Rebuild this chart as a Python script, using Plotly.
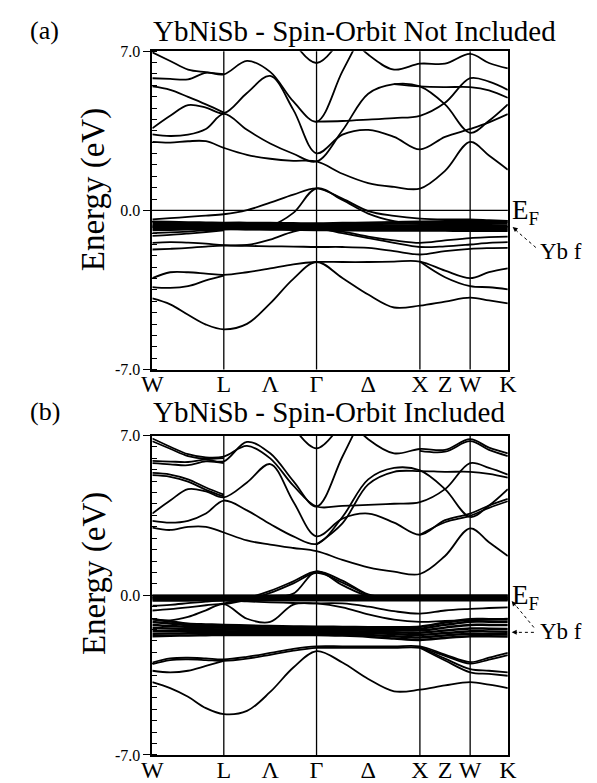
import plotly.graph_objects as go

N = None
# k-path sample positions (path length units) and symmetry labels
K_PATH = [0, 18.5, 37, 55.5, 74, 98, 122, 146, 170, 196.75, 223.5, 250.25, 277, 303, 329, 348.5, 368]
SYM_POS = [0, 74, 122, 170, 223.5, 277, 303, 329, 368]
SYM_LABELS = ["W", "L", "Λ", "Γ", "Δ", "X", "Z", "W", "K"]
VLINES = [74, 170, 277, 329]
Y_TICKS = [-7, 0, 7]
Y_TICKTEXT = ["-7.0", "0.0", "7.0"]

# ---------------- (a) spin-orbit not included ----------------
A_C1 = [3.01, 2.98, 3.04, 3.04, 2.75, 2.44, 2.27, 2.18, 2.15, 1.61, 1.20, 1.03, 0.96, 1.74, 3.01, 2.41, 1.79]
A_C2 = [3.61, 4.16, 4.63, 4.52, 4.27, 5.16, 5.91, 4.42, 2.51, 3.33, 3.54, 3.23, 2.68, 3.23, 3.58, 3.87, 4.23]
A_C3 = [3.34, 3.27, 3.33, 3.58, 4.24, 3.54, 2.94, 2.49, 2.15, 3.51, 5.13, 5.55, 5.45, 4.66, 3.41, 3.94, 4.66]
A_C4 = [5.45, 5.30, 4.99, 4.66, 4.30, N, N, N, N, N, N, N, N, N, N, N, N]
A_C5 = [5.81, 5.78, 5.76, 6.05, 5.98, 6.57, 6.09, 4.79, 3.90, 6.11, 8.3, N, N, N, N, N, N]
A_C6 = [6.95, 6.57, 6.19, 6.08, 5.99, N, N, N, N, N, N, N, N, N, N, N, N]
A_C7 = [N, N, N, N, N, N, N, 7.42, 6.48, 7.64, N, N, N, N, N, N, N]
A_C8 = [N, N, N, N, N, N, N, N, 3.90, 3.93, 3.99, 4.06, 4.16, 4.73, 5.81, 5.66, 5.30]
A_C9 = [N, N, N, N, N, N, N, N, N, 8.0, 6.85, 6.19, 6.45, 6.45, 6.88, 6.48, 6.24]
A_C10 = [N, N, N, N, N, N, N, N, N, N, N, 5.55, 5.45, 5.42, 5.42, 5.28, 4.95]
A_V1 = [-0.40, -0.34, -0.29, -0.23, -0.17, 0.01, 0.34, 0.69, 0.97, 0.52, -0.03, -0.24, -0.36, -0.40, -0.40, -0.43, -0.46]
A_V2 = [-0.72, -0.72, -0.72, -0.72, -0.74, -0.76, -0.68, -0.11, 0.97, 0.46, -0.14, -0.47, -0.60, -0.65, -0.69, -0.70, -0.72]
A_V3 = [-1.00, -0.97, -0.93, -0.88, -0.84, -0.84, -0.83, -0.83, -0.83, -0.93, -1.15, -1.32, -1.43, -1.32, -1.22, -1.18, -1.15]
A_V4 = [-1.12, -1.08, -1.02, -0.95, -0.88, N, N, N, N, N, N, N, N, N, N, N, N]
A_V5 = [-1.72, -1.69, -1.65, -1.59, -1.55, -1.56, -1.58, -1.59, -1.61, -1.61, -1.65, -1.79, -1.94, -1.79, -1.69, -1.66, -1.65]
A_V6 = [-1.43, -1.40, -1.42, -1.46, -1.53, -1.52, -1.29, -0.93, -0.79, -1.00, -1.22, -1.43, -1.61, -1.58, -1.50, -1.43, -1.40]
A_V7 = [-2.98, -2.72, -2.72, -2.78, -2.84, -2.72, -2.55, -2.37, -2.27, -2.27, -2.27, -2.25, -2.25, -2.65, -2.98, -2.72, -2.55]
A_V8 = [-3.37, -3.41, -3.33, -3.08, -2.87, N, N, N, N, N, N, N, -2.25, -2.94, -3.33, -3.38, -3.47]
A_V9 = [-3.87, -4.13, -4.59, -5.02, -5.23, -4.99, -4.09, -3.01, -2.27, -2.97, -3.70, -4.27, -4.19, -4.01, -3.84, -3.96, -4.09]
# Yb f bundle (a)
FA_1 = [-0.50, -0.51, -0.53, -0.54, -0.55, -0.55, -0.56, -0.57, -0.58, -0.56, -0.54, -0.52, -0.50, -0.48, -0.47, -0.48, -0.49]
FA_2 = [-0.57, -0.58, -0.60, -0.61, -0.62, -0.62, -0.63, -0.63, -0.64, -0.62, -0.60, -0.58, -0.57, -0.56, -0.55, -0.56, -0.57]
FA_3 = [-0.64, -0.65, -0.66, -0.67, -0.67, -0.68, -0.69, -0.69, -0.70, -0.69, -0.68, -0.67, -0.66, -0.65, -0.64, -0.65, -0.66]
FA_4 = [-0.71, -0.72, -0.72, -0.72, -0.72, -0.73, -0.74, -0.75, -0.76, -0.75, -0.74, -0.74, -0.74, -0.74, -0.73, -0.73, -0.74]
FA_5 = [-0.78, -0.78, -0.77, -0.77, -0.77, -0.78, -0.79, -0.80, -0.81, -0.81, -0.81, -0.81, -0.81, -0.82, -0.82, -0.82, -0.82]
FA_6 = [-0.86, -0.85, -0.83, -0.82, -0.81, -0.82, -0.84, -0.85, -0.86, -0.87, -0.88, -0.88, -0.88, -0.89, -0.90, -0.90, -0.90]

# ---------------- (b) spin-orbit included ----------------
B_C1 = [2.96, 2.86, 3.00, 3.00, 2.75, 2.40, 2.22, 2.07, 1.93, 1.55, 1.22, 1.03, 0.93, 1.72, 2.93, 2.32, 1.72]
B_C2 = [3.58, 4.15, 4.65, 4.55, 4.29, 4.94, 5.75, 4.10, 2.58, 3.36, 3.58, 3.18, 2.65, 3.29, 3.58, 3.93, 4.22]
B_C2b = [N, N, N, N, N, N, N, N, N, N, N, N, 2.65, 3.20, 3.48, 3.83, 4.12]
B_C3 = [3.26, 3.18, 3.26, 3.58, 4.15, 3.72, 3.12, 2.58, 2.25, 3.43, 5.08, 5.58, 5.47, 4.65, 3.43, 3.93, 4.65]
B_C4 = [5.36, 5.29, 5.08, 4.72, 4.41, N, N, N, N, N, N, N, N, N, N, N, N]
B_C4b = [5.26, 5.19, 4.98, 4.62, 4.33, N, N, N, N, N, N, N, N, N, N, N, N]
B_C5 = [5.89, 5.86, 5.84, 5.94, 5.87, 6.72, 6.22, 5.00, 3.89, 6.07, 8.4, N, N, N, N, N, N]
B_C5b = [5.79, 5.74, 5.70, 5.87, 5.79, N, N, N, N, N, N, N, N, N, N, N, N]
B_C6 = [6.87, 6.51, 6.18, 6.04, 6.08, 6.55, 6.00, 4.80, 3.89, 3.92, 3.96, 4.01, 4.08, 4.65, 5.79, 5.58, 5.29]
B_C6b = [6.75, 6.42, 6.10, 5.98, 6.01, N, N, N, N, N, N, N, N, N, N, N, N]
B_C7 = [N, N, N, N, N, N, N, 7.38, 6.44, 7.60, N, N, N, N, N, N, N]
B_C9 = [N, N, N, N, N, N, N, N, N, 8.0, 6.84, 6.22, 6.41, 6.37, 6.84, 6.47, 6.22]
B_C9b = [N, N, N, N, N, N, N, N, N, N, N, N, 6.33, 6.29, 6.75, 6.37, 6.10]
B_C10 = [N, N, N, N, N, N, N, N, 2.22, 3.15, 4.86, 5.41, 5.44, 5.41, 5.41, 5.32, 5.15]
B_V1 = [-0.67, -0.61, -0.53, -0.44, -0.36, -0.13, 0.19, 0.61, 1.04, 0.64, 0.04, -0.10, -0.16, -0.17, -0.17, -0.18, -0.19]
B_V1b = [N, N, N, N, -0.40, -0.20, 0.10, 0.52, 0.98, 0.55, -0.02, N, N, N, N, N, N]
B_V2 = [-0.10, -0.10, -0.10, -0.10, -0.10, -0.10, -0.10, 0.07, 1.04, 0.44, -0.03, -0.10, -0.12, -0.12, -0.12, -0.12, -0.12]
B_V3 = [-1.05, -1.10, -0.95, -0.66, -0.39, -1.03, -1.17, -0.41, -0.36, -0.36, -0.50, -0.70, -0.81, -0.67, -0.60, -0.56, -0.53]
B_V4 = [-0.46, -0.42, -0.35, -0.28, -0.24, -0.27, -0.31, -0.34, -0.36, -0.53, -0.84, -1.07, -1.17, -1.13, -1.10, -1.07, -1.03]
B_V7 = [-2.95, -2.77, -2.74, -2.77, -2.81, -2.70, -2.53, -2.35, -2.24, -2.24, -2.24, -2.24, -2.24, -2.60, -2.93, -2.74, -2.53]
B_V7b = [-3.02, -2.84, -2.81, -2.84, -2.88, -2.78, -2.61, -2.43, -2.31, -2.31, -2.31, -2.31, -2.31, -2.66, -3.00, -2.82, -2.62]
B_V8 = [-3.31, -3.38, -3.31, -3.10, -2.88, N, N, N, N, N, N, N, -2.27, -2.78, -3.24, -3.31, -3.38]
B_V8b = [N, N, N, N, N, N, N, N, N, N, N, N, -2.30, -2.86, -3.38, -3.45, -3.53]
B_V9 = [-3.81, -4.07, -4.45, -4.95, -5.21, -5.07, -4.24, -3.17, -2.45, -2.95, -3.67, -4.21, -4.14, -3.95, -3.81, -3.92, -4.07]
# Yb f bundles (b): near E_F and near -1.5 eV
FB_1 = [-0.03, -0.03, -0.03, -0.03, -0.03, -0.03, -0.03, -0.02, -0.02, -0.02, -0.02, -0.02, -0.02, -0.02, -0.02, -0.02, -0.02]
FB_2 = [-0.08, -0.08, -0.08, -0.08, -0.08, -0.08, -0.08, -0.07, -0.07, -0.07, -0.07, -0.07, -0.07, -0.07, -0.07, -0.07, -0.07]
FB_3 = [-0.13, -0.13, -0.13, -0.13, -0.13, -0.13, -0.13, -0.12, -0.12, -0.12, -0.12, -0.12, -0.12, -0.12, -0.12, -0.12, -0.12]
FB_4 = [-0.18, -0.18, -0.18, -0.18, -0.18, -0.18, -0.18, -0.17, -0.17, -0.17, -0.17, -0.17, -0.17, -0.17, -0.17, -0.17, -0.17]
FB_5 = [-0.23, -0.23, -0.23, -0.22, -0.22, -0.22, -0.22, -0.22, -0.22, -0.22, -0.22, -0.22, -0.22, -0.22, -0.22, -0.22, -0.22]
GB_1 = [-1.05, -1.15, -1.25, -1.28, -1.30, -1.33, -1.35, -1.37, -1.38, -1.39, -1.40, -1.40, -1.38, -1.20, -1.05, -1.05, -1.05]
GB_2 = [-1.17, -1.24, -1.31, -1.34, -1.36, -1.39, -1.41, -1.42, -1.43, -1.44, -1.45, -1.46, -1.46, -1.30, -1.16, -1.16, -1.16]
GB_3 = [-1.30, -1.35, -1.39, -1.41, -1.43, -1.45, -1.47, -1.48, -1.49, -1.50, -1.51, -1.53, -1.54, -1.42, -1.30, -1.30, -1.30]
GB_4 = [-1.44, -1.46, -1.48, -1.49, -1.50, -1.52, -1.54, -1.55, -1.56, -1.57, -1.59, -1.62, -1.64, -1.55, -1.46, -1.47, -1.48]
GB_5 = [-1.57, -1.57, -1.57, -1.58, -1.58, -1.59, -1.60, -1.61, -1.62, -1.63, -1.66, -1.70, -1.74, -1.66, -1.58, -1.59, -1.60]
GB_6 = [-1.69, -1.68, -1.67, -1.66, -1.66, -1.66, -1.67, -1.68, -1.68, -1.70, -1.74, -1.80, -1.85, -1.76, -1.69, -1.70, -1.71]
GB_7 = [-1.80, -1.78, -1.76, -1.75, -1.74, -1.74, -1.74, -1.74, -1.74, -1.77, -1.82, -1.90, -1.96, -1.87, -1.80, -1.80, -1.81]

BANDS_A = [A_C1, A_C2, A_C3, A_C4, A_C5, A_C6, A_C7, A_C8, A_C9, A_C10,
           A_V1, A_V2, A_V3, A_V4, A_V5, A_V6, A_V7, A_V8, A_V9]
BUNDLE_A = [FA_1, FA_2, FA_3, FA_4, FA_5, FA_6]
BANDS_B = [B_C1, B_C2, B_C2b, B_C3, B_C4, B_C4b, B_C5, B_C5b, B_C6, B_C6b, B_C7, B_C9, B_C9b, B_C10,
           B_V1, B_V1b, B_V2, B_V3, B_V4, B_V7, B_V7b, B_V8, B_V8b, B_V9]
BUNDLE_B = [FB_1, FB_2, FB_3, FB_4, FB_5, GB_1, GB_2, GB_3, GB_4, GB_5, GB_6, GB_7]

# page body has an 8px default margin: figure is sized to fill the rest of the window
OFF = 8
FW, FH = 597 - OFF, 783 - OFF
FONT = "Liberation Serif"


def px(x):
    return (x - OFF) / FW


def py(y):
    return 1 - (y - OFF) / FH


fig = go.Figure()

panels = [
    dict(sfx="", top=44, bot=370, bands=BANDS_A, bundle=BUNDLE_A),
    dict(sfx="2", top=437.5, bot=764.5, bands=BANDS_B, bundle=BUNDLE_B),
]

for p in panels:
    xa, ya = "x" + p["sfx"], "y" + p["sfx"]
    for b in p["bundle"]:
        fig.add_trace(go.Scatter(x=K_PATH, y=b, mode="lines", xaxis=xa, yaxis=ya,
                                 line=dict(color="black", width=2.5, shape="spline"),
                                 showlegend=False, hoverinfo="skip"))
    for b in p["bands"]:
        fig.add_trace(go.Scatter(x=K_PATH, y=b, mode="lines", xaxis=xa, yaxis=ya,
                                 line=dict(color="black", width=1.8, shape="spline"),
                                 connectgaps=False, showlegend=False, hoverinfo="skip"))
    for v in VLINES:
        fig.add_shape(type="line", xref=xa, yref=ya + " domain", x0=v, x1=v, y0=0, y1=1,
                      line=dict(color="black", width=1.3))
    fig.add_shape(type="line", xref=xa + " domain", yref=ya, x0=0, x1=1, y0=0, y1=0,
                  line=dict(color="black", width=1.2))

    ax_common = dict(showline=True, mirror=True, linecolor="black", linewidth=1.7,
                     showgrid=False, zeroline=False)
    fig.layout["xaxis" + p["sfx"]] = dict(
        domain=[px(146), px(514)], range=[0, 368], anchor=ya,
        tickmode="array", tickvals=SYM_POS, ticktext=SYM_LABELS, ticks="",
        ticklabelstandoff=-8,
        tickfont=dict(family=FONT, size=24, color="black"), **ax_common)
    fig.layout["yaxis" + p["sfx"]] = dict(
        domain=[py(p["bot"]), py(p["top"])], range=[-7, 7], anchor=xa,
        tickmode="array", tickvals=Y_TICKS, ticktext=Y_TICKTEXT,
        ticks="outside", ticklen=7, tickwidth=1.3, tickcolor="black",
        minor=dict(tickmode="linear", tick0=0, dtick=0.5, ticks="inside", ticklen=5,
                   tickwidth=1, tickcolor="black", showgrid=False),
        tickfont=dict(family=FONT, size=16, color="black"), **ax_common)

ann = []
# panel letters and titles
ann.append(dict(text="(a)", x=px(17), y=py(23), xanchor="left", yanchor="middle", font=dict(size=26)))
ann.append(dict(text="YbNiSb - Spin-Orbit Not Included", x=px(145), y=py(23), xanchor="left",
                yanchor="middle", font=dict(size=29)))
ann.append(dict(text="(b)", x=px(17), y=py(413), xanchor="left", yanchor="middle", font=dict(size=26)))
ann.append(dict(text="YbNiSb - Spin-Orbit Included", x=px(145), y=py(413), xanchor="left",
                yanchor="middle", font=dict(size=29)))
# y titles
ann.append(dict(text="Energy (eV)", x=px(86), y=py(186), textangle=-90, xanchor="center",
                yanchor="middle", font=dict(size=33)))
ann.append(dict(text="Energy (eV)", x=px(86), y=py(579), textangle=-90, xanchor="center",
                yanchor="middle", font=dict(size=33)))
# E_F labels
ann.append(dict(text="E<sub>F</sub>", x=px(516), y=py(209), xanchor="left", yanchor="middle",
                font=dict(size=27)))
ann.append(dict(text="E<sub>F</sub>", x=px(516), y=py(603), xanchor="left", yanchor="middle",
                font=dict(size=27)))
# Yb f labels
ann.append(dict(text="Yb f", x=px(545), y=py(249), xanchor="left", yanchor="middle", font=dict(size=23)))
ann.append(dict(text="Yb f", x=px(545), y=py(638), xanchor="left", yanchor="middle", font=dict(size=23)))
# arrow heads
for (hx, hy, dx, dy) in [(519, 224, 6, 5), (518, 607, 5, 6), (518, 639, 7, 0)]:
    ann.append(dict(text="", x=px(hx), y=py(hy), showarrow=True, arrowhead=2, arrowsize=1,
                    arrowwidth=1, arrowcolor="black", ax=dx, ay=dy))
for a in ann:
    a.setdefault("showarrow", False)
    a["xref"] = "paper"
    a["yref"] = "paper"
    f = a.get("font", {})
    f.setdefault("family", FONT)
    f.setdefault("color", "black")
    a["font"] = f
fig.update_layout(annotations=ann)

# dashed leaders for Yb f
for (x0, y0, x1, y1) in [(543, 245, 523, 228), (541, 634, 521, 610), (541, 639, 523, 639)]:
    fig.add_shape(type="line", xref="paper", yref="paper", x0=px(x0), y0=py(y0), x1=px(x1), y1=py(y1),
                  line=dict(color="black", width=1, dash="dot"))

fig.update_layout(width=FW, height=FH, margin=dict(l=0, r=0, t=0, b=0),
                  paper_bgcolor="white", plot_bgcolor="white",
                  font=dict(family=FONT, color="black"))

fig.write_html("out.html")
